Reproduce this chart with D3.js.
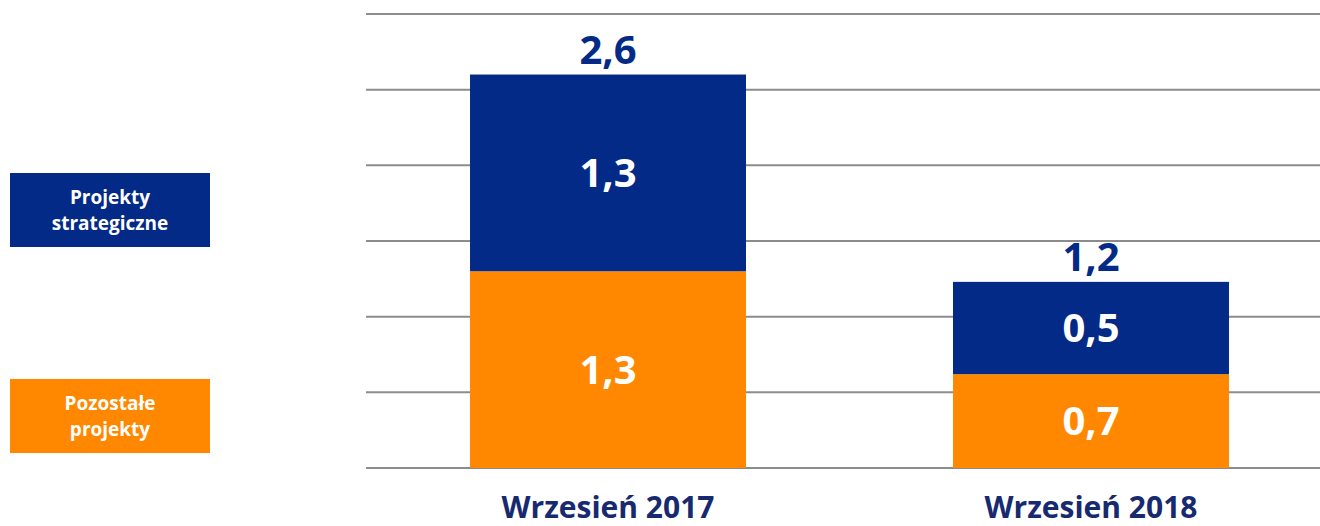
<!DOCTYPE html>
<html>
<head>
<meta charset="utf-8">
<script src="https://cdn.jsdelivr.net/npm/d3@7"></script>
<style>
  body { margin: 0; background: #fff; }
  svg { display: block; font-family: "Century Gothic", "Open Sans", "DejaVu Sans", sans-serif; font-weight: bold; }
</style>
</head>
<body>
<div id="chart"></div>
<script>
// data
const categories = ["Wrzesień 2017", "Wrzesień 2018"];
const pozostale = [1.30, 0.62];        // orange segment (bottom)
const strategiczne = [1.30, 0.61];     // blue segment (top)
const pozostaleLabels = ["1,3", "0,7"];
const strategiczneLabels = ["1,3", "0,5"];
const totalLabels = ["2,6", "1,2"];
const gridTicks = [0, 0.5, 1, 1.5, 2, 2.5, 3];
const legendItems = [
    {lines: ["Projekty", "strategiczne"], key: "strategiczne"},
    {lines: ["Pozostałe", "projekty"], key: "pozostale"}
];

const colors = {strategiczne: "#032A86", pozostale: "#FF8800"};
const W = 1320, H = 526;

let svg = d3.select("#chart").append("svg")
    .attr("width", W)
    .attr("height", H);

let y = d3.scaleLinear().domain([0, 3]).range([468, 14]);
let x = d3.scaleBand().domain(categories)
    .range([367, 1332])
    .paddingInner(0.4286)
    .paddingOuter(0.2133);

// gridlines
svg.append("g").selectAll("line")
    .data(gridTicks)
    .enter().append("line")
    .attr("x1", 366).attr("x2", W)
    .attr("y1", d => y(d)).attr("y2", d => y(d))
    .attr("stroke", "#8c8c8c")
    .attr("stroke-width", 2);

let rows = categories.map((c, i) => ({
    cat: c,
    pozostale: pozostale[i],
    strategiczne: strategiczne[i],
    pLabel: pozostaleLabels[i],
    sLabel: strategiczneLabels[i],
    tLabel: totalLabels[i]
}));

let stack = d3.stack().keys(["pozostale", "strategiczne"])(rows);

svg.append("g").selectAll("g")
    .data(stack)
    .enter().append("g")
    .attr("fill", d => colors[d.key])
    .selectAll("rect")
    .data(d => d)
    .enter().append("rect")
    .attr("x", d => x(d.data.cat))
    .attr("width", x.bandwidth())
    .attr("y", d => y(d[1]))
    .attr("height", d => y(d[0]) - y(d[1]));

// segment labels
stack.forEach(layer => {
    svg.append("g").selectAll("text")
        .data(layer)
        .enter().append("text")
        .attr("x", d => x(d.data.cat) + x.bandwidth() / 2)
        .attr("y", d => (y(d[0]) + y(d[1])) / 2)
        .attr("dy", "0.36em")
        .attr("text-anchor", "middle")
        .attr("fill", "#fff")
        .attr("font-size", 40)
        .text(d => layer.key === "pozostale" ? d.data.pLabel : d.data.sLabel);
});

// totals
svg.append("g").selectAll("text")
    .data(rows)
    .enter().append("text")
    .attr("x", d => x(d.cat) + x.bandwidth() / 2)
    .attr("y", d => y(d.pozostale + d.strategiczne) - 11)
    .attr("text-anchor", "middle")
    .attr("fill", colors.strategiczne)
    .attr("font-size", 40)
    .text(d => d.tLabel);

// category labels
svg.append("g").selectAll("text")
    .data(categories)
    .enter().append("text")
    .attr("x", d => x(d) + x.bandwidth() / 2)
    .attr("y", 518)
    .attr("text-anchor", "middle")
    .attr("fill", "#172a70")
    .attr("font-size", 30)
    .text(d => d);

// legend boxes on the left
let legendY = [173, 379];
let leg = svg.append("g").selectAll("g")
    .data(legendItems)
    .enter().append("g")
    .attr("transform", (d, i) => `translate(10, ${legendY[i]})`);

leg.append("rect")
    .attr("width", 200)
    .attr("height", 74)
    .attr("fill", d => colors[d.key]);

leg.each(function (d) {
    let t = d3.select(this).append("text")
        .attr("text-anchor", "middle")
        .attr("fill", "#fff")
        .attr("font-size", 19);
    d.lines.forEach((l, i) => {
        t.append("tspan")
            .attr("x", 100)
            .attr("y", 31 + i * 26)
            .text(l);
    });
});
</script>
</body>
</html>
